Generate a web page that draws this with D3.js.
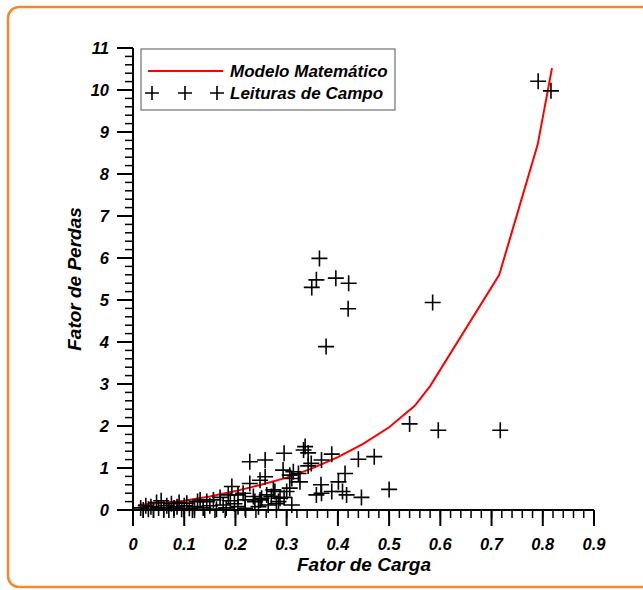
<!DOCTYPE html>
<html>
<head>
<meta charset="utf-8">
<script src="https://cdn.jsdelivr.net/npm/d3@7"></script>
<style>
  html, body { margin: 0; padding: 0; background: #fff; }
  svg { display: block; }
  text { font-family: "Liberation Sans", Arial, sans-serif; font-weight: bold; font-style: italic; fill: #000; }
</style>
</head>
<body>
<svg id="chart" width="643" height="590"></svg>
<script>
// ---- Data ----
const xTicks = [0, 0.1, 0.2, 0.3, 0.4, 0.5, 0.6, 0.7, 0.8, 0.9];
const yTicks = [0, 1, 2, 3, 4, 5, 6, 7, 8, 9, 10, 11];
const seriesNames = ["Modelo Matemático", "Leituras de Campo"];

// Mathematical model curve
const modelX = [0.01, 0.05, 0.1, 0.15, 0.2, 0.25, 0.3, 0.35, 0.4, 0.45, 0.5, 0.55, 0.58, 0.715, 0.79, 0.818];
const modelY = [0.12, 0.16, 0.22, 0.32, 0.45, 0.6, 0.77, 0.99, 1.26, 1.58, 1.97, 2.48, 2.95, 5.6, 8.7, 10.52];

// Field readings
const fieldX = [
  0.791, 0.816, 0.364, 0.358, 0.349, 0.396, 0.421, 0.420, 0.377, 0.585,
  0.540, 0.596, 0.717, 0.500, 0.446, 0.471, 0.440,
  0.228, 0.258, 0.295, 0.333, 0.336, 0.342, 0.368, 0.388, 0.348, 0.342,
  0.293, 0.306, 0.313, 0.323, 0.310, 0.414, 0.401, 0.409, 0.367, 0.388,
  0.358, 0.368, 0.417, 0.326, 0.258, 0.228, 0.248, 0.193, 0.186, 0.205,
  0.215, 0.219, 0.238, 0.251, 0.235, 0.261, 0.270, 0.274, 0.284, 0.287,
  0.277, 0.300, 0.306, 0.310, 0.245, 0.264, 0.219, 0.248, 0.280, 0.295,
  0.015, 0.020, 0.025, 0.030, 0.035, 0.040, 0.046, 0.050, 0.055, 0.060,
  0.066, 0.070, 0.075, 0.080, 0.086, 0.090, 0.095, 0.100, 0.105, 0.110,
  0.116, 0.120, 0.126, 0.131, 0.137, 0.144, 0.150, 0.157, 0.163, 0.170,
  0.176, 0.182, 0.190, 0.198, 0.205
];
const fieldY = [
  10.21, 9.98, 5.99, 5.48, 5.30, 5.52, 5.40, 4.79, 3.89, 4.94,
  2.05, 1.90, 1.90, 0.49, 0.30, 1.27, 1.21,
  1.15, 1.19, 1.35, 1.43, 1.51, 1.36, 1.19, 1.33, 1.11, 1.05,
  0.95, 0.83, 0.91, 0.87, 0.75, 0.87, 0.67, 0.44, 0.60, 0.44,
  0.36, 0.40, 0.36, 0.67, 0.79, 0.63, 0.71, 0.56, 0.36, 0.36,
  0.40, 0.24, 0.20, 0.28, 0.32, 0.36, 0.32, 0.48, 0.20, 0.28,
  0.44, 0.44, 0.52, 0.12, 0.08, 0.12, 0.04, 0.24, 0.15, 0.30,
  0.05, 0.00, 0.10, 0.02, 0.08, 0.00, 0.18, 0.05, 0.22, 0.02,
  0.10, 0.00, 0.15, 0.05, 0.08, 0.18, 0.02, 0.10, 0.16, 0.04,
  0.00, 0.08, 0.20, 0.24, 0.05, 0.20, 0.10, 0.24, 0.02, 0.30,
  0.12, 0.05, 0.22, 0.15, 0.08
];

// ---- Layout ----
const svg = d3.select("#chart");
const L = 133, R = 594, T = 48, B = 510;
const x = d3.scaleLinear().domain([0, 0.9]).range([L, R]);
const y = d3.scaleLinear().domain([0, 11]).range([B, T]);

// Orange frame
svg.append("rect")
  .attr("x", 8).attr("y", 7).attr("width", 660).attr("height", 580)
  .attr("rx", 11).attr("ry", 11)
  .attr("fill", "none").attr("stroke", "#f7882a").attr("stroke-width", 2.5);

// X axis
const xMinor = d3.range(0, 0.9001, 0.02);
const xAxis = svg.append("g");
xAxis.append("line").attr("x1", L - 16).attr("x2", R).attr("y1", B).attr("y2", B)
  .attr("stroke", "#000").attr("stroke-width", 2);
xAxis.selectAll("line.minor").data(xMinor).join("line").attr("class", "minor")
  .attr("x1", d => x(d)).attr("x2", d => x(d)).attr("y1", B).attr("y2", B + 8)
  .attr("stroke", "#000").attr("stroke-width", 1.5);
xAxis.selectAll("line.major").data(xTicks).join("line").attr("class", "major")
  .attr("x1", d => x(d)).attr("x2", d => x(d)).attr("y1", B).attr("y2", B + 16)
  .attr("stroke", "#000").attr("stroke-width", 2);
xAxis.selectAll("text").data(xTicks).join("text")
  .attr("x", d => x(d)).attr("y", 550).attr("text-anchor", "middle")
  .style("font-size", "16.5px").text(d => d3.format("")(d));

// Y axis
const yMinor = d3.range(0, 11.001, 0.2);
const yAxis = svg.append("g");
yAxis.append("line").attr("x1", L).attr("x2", L).attr("y1", T).attr("y2", B + 16)
  .attr("stroke", "#000").attr("stroke-width", 2);
yAxis.selectAll("line.minor").data(yMinor).join("line").attr("class", "minor")
  .attr("x1", L - 8).attr("x2", L).attr("y1", d => y(d)).attr("y2", d => y(d))
  .attr("stroke", "#000").attr("stroke-width", 1.5);
yAxis.selectAll("line.major").data(yTicks).join("line").attr("class", "major")
  .attr("x1", L - 16).attr("x2", L).attr("y1", d => y(d)).attr("y2", d => y(d))
  .attr("stroke", "#000").attr("stroke-width", 2);
yAxis.selectAll("text").data(yTicks).join("text")
  .attr("x", 109).attr("y", d => y(d) + 6).attr("text-anchor", "end")
  .style("font-size", "16.5px").text(d => d);

// Axis titles
svg.append("text").attr("x", 364).attr("y", 571).attr("text-anchor", "middle")
  .style("font-size", "19px").text("Fator de Carga");
svg.append("text").attr("transform", "translate(81,279) rotate(-90)")
  .attr("text-anchor", "middle").style("font-size", "19px").text("Fator de Perdas");

// Model curve
const modelPts = modelX.map((d, i) => [d, modelY[i]]);
svg.append("path").datum(modelPts)
  .attr("d", d3.line().x(d => x(d[0])).y(d => y(d[1])))
  .attr("fill", "none").attr("stroke", "#ff0000").attr("stroke-width", 2);

// Field readings (crosses)
const cross = (cx, cy, h) => `M${cx - h},${cy}H${cx + h}M${cx},${cy - h}V${cy + h}`;
const fieldPts = fieldX.map((d, i) => [d, fieldY[i]]);
svg.append("g").selectAll("path").data(fieldPts).join("path")
  .attr("d", d => cross(x(d[0]), y(d[1]), 8))
  .attr("stroke", "#000").attr("stroke-width", 1.6).attr("fill", "none");

// Legend
const lg = svg.append("g");
lg.append("rect").attr("x", 141).attr("y", 49).attr("width", 254).attr("height", 61)
  .attr("fill", "#fff").attr("stroke", "#555").attr("stroke-width", 1);
lg.append("line").attr("x1", 148).attr("x2", 223).attr("y1", 71).attr("y2", 71)
  .attr("stroke", "#ff0000").attr("stroke-width", 2);
lg.append("text").attr("x", 230).attr("y", 77).style("font-size", "17px").text(seriesNames[0]);
[152, 185, 217].forEach(cx => {
  lg.append("path").attr("d", cross(cx, 93, 7)).attr("stroke", "#000").attr("stroke-width", 1.6);
});
lg.append("text").attr("x", 230).attr("y", 99).style("font-size", "17px").text(seriesNames[1]);
</script>
</body>
</html>
